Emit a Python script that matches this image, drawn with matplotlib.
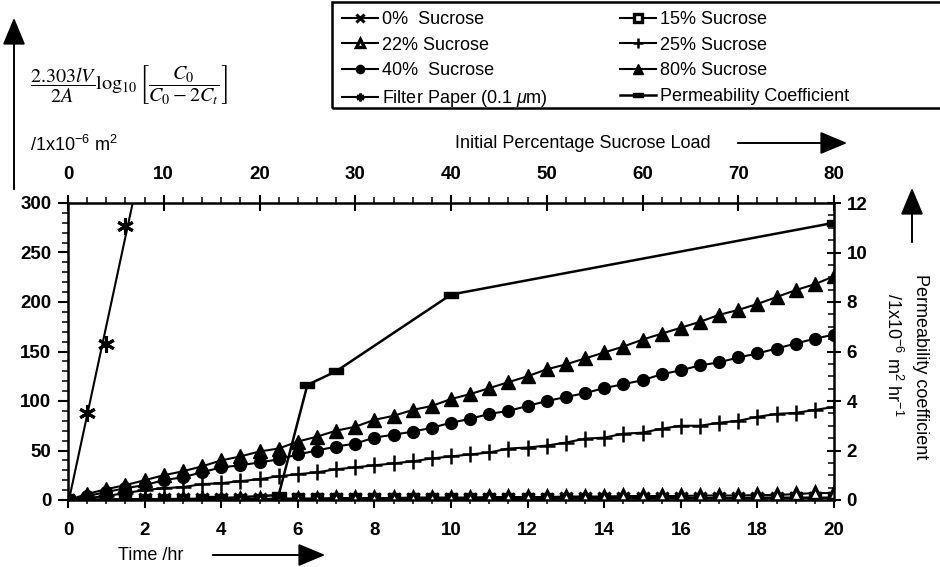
import numpy as np
import matplotlib
matplotlib.use("Agg")
import matplotlib.pyplot as plt
from matplotlib.path import Path
from matplotlib.patches import FancyArrowPatch, Rectangle
from matplotlib.ticker import MultipleLocator

plt.rcParams['font.family'] = ['Liberation Sans', 'DejaVu Sans']
plt.rcParams['mathtext.fontset'] = 'custom'
plt.rcParams['mathtext.rm'] = 'Liberation Sans'
plt.rcParams['mathtext.it'] = 'Liberation Sans:italic'
plt.rcParams['mathtext.bf'] = 'Liberation Sans:bold'

# ---- data -------------------------------------------------------------
time_hr = np.arange(0, 20.5, 0.5)

sucrose_0 = [0, 0.5, 0.5, 0.5, 1, 1, 1, 1, 1, 1,
             1, 1, 1, 1, 1, 1, 1, 1, 1.5, 1.5,
             1.5, 1.5, 1.5, 1.5, 1.5, 1.5, 2, 2, 2, 2,
             2, 2, 2, 2, 2, 2, 2.5, 2.5, 2.5, 2.5, 2.5]
sucrose_15 = [0, 0, 0, 0.5, 0.5, 0.5, 0.5, 0.5, 0.5, 0.5,
              0.5, 1, 1, 1, 1, 1, 1, 1, 1, 1,
              1, 1, 1, 1, 1, 1.5, 1.5, 1.5, 1.5, 1.5,
              1.5, 1.5, 1.5, 1.5, 1.5, 1.5, 1.5, 1.5, 2, 2, 2]
sucrose_22 = [0, 0, 0, 0.5, 0.5, 0.5, 1, 1, 1, 1,
              1, 1.5, 1.5, 1.5, 2, 2, 2, 2, 2.5, 2.5,
              2.5, 2.5, 3, 3, 3, 3, 3.5, 3.5, 3.5, 4,
              4, 4, 4, 4.5, 4.5, 4.5, 5, 5, 6, 7, 7]
sucrose_25 = [0, 2, 4, 7, 10, 12, 13, 16, 17, 19,
              21, 24, 26, 28, 31, 33, 35, 37, 39, 42,
              44, 46, 48, 52, 53, 55, 58, 62, 63, 67,
              68, 72, 75, 75, 78, 80, 84, 87, 88, 91, 94]
sucrose_40 = [0, 4, 8, 12, 15, 20, 23, 28, 33, 35,
              38, 41, 46, 50, 54, 57, 63, 66, 69, 73,
              78, 82, 87, 90, 95, 100, 104, 108, 113, 117,
              121, 127, 131, 136, 139, 144, 148, 153, 158, 163, 167]
sucrose_80 = [0, 6, 11, 15, 20, 25, 29, 34, 40, 44,
              49, 52, 59, 64, 70, 74, 81, 85, 91, 95,
              102, 107, 113, 119, 125, 132, 137, 143, 149, 155,
              162, 168, 174, 180, 187, 192, 198, 205, 212, 218, 226]

filter_time = [0, 0.5, 1.0, 1.5]
filter_vals = [0, 88, 158, 277]

load_pct = [0, 15, 22, 25, 28, 40, 80]
perm_coeff = [0.0, 0.05, 0.2, 4.65, 5.2, 8.3, 11.2]

# ---- figure -----------------------------------------------------------
W, H = 940, 567
fig = plt.figure(figsize=(W / 100, H / 100), dpi=100)

def fx(px):
    return px / W

def fy(py):
    return 1 - py / H

rect = [fx(68), fy(500), fx(834) - fx(68), fy(203) - fy(500)]
ax = fig.add_axes(rect)
ax2 = fig.add_axes(rect)
ax2.patch.set_visible(False)

bar_marker = Path([(-1, -0.45), (1, -0.45), (1, 0.45), (-1, 0.45), (-1, -0.45)],
                  [Path.MOVETO, Path.LINETO, Path.LINETO, Path.LINETO, Path.CLOSEPOLY])
asterisk = (6, 2, 0)

lw = 1.5
h0, = ax.plot(time_hr, sucrose_0, color='k', lw=lw, marker='x', ms=8, mew=2.2)
h15, = ax.plot(time_hr, sucrose_15, color='k', lw=lw, marker='s', ms=7.5, mfc='white', mew=2.4)
h22, = ax.plot(time_hr, sucrose_22, color='k', lw=lw, marker='^', ms=8.5, mfc='white', mew=2.4)
h25, = ax.plot(time_hr, sucrose_25, color='k', lw=lw, marker='+', ms=11, mew=1.8)
h40, = ax.plot(time_hr, sucrose_40, color='k', lw=lw, marker='o', ms=8.5)
h80, = ax.plot(time_hr, sucrose_80, color='k', lw=lw, marker='^', ms=10)

# filter paper: markers with a least-squares straight line
slope, icpt = np.polyfit(filter_time, filter_vals, 1)
t_fit = np.array([-icpt / slope, (300 - icpt) / slope])
ax.plot(t_fit, slope * t_fit + icpt, color='k', lw=lw)
ax.plot(filter_time, filter_vals, ls='none', color='k', marker=asterisk, ms=12, mew=2.2)
hfp, = ax.plot([], [], color='k', lw=lw, marker=asterisk, ms=8, mew=1.8)

hpc, = ax2.plot(load_pct, perm_coeff, color='k', lw=lw + 0.3, marker=bar_marker, ms=10)

ax.set_xlim(0, 20)
ax.set_ylim(0, 300)
ax2.set_xlim(0, 80)
ax2.set_ylim(0, 12)

for a in (ax, ax2):
    for s in a.spines.values():
        s.set_linewidth(1.8)
ax.spines['top'].set_visible(False)
ax.spines['right'].set_visible(False)
ax2.spines['left'].set_visible(False)
ax2.spines['bottom'].set_visible(False)

tick_fs = 13.5
ax.xaxis.set_major_locator(MultipleLocator(2))
ax.xaxis.set_minor_locator(MultipleLocator(0.5))
ax.yaxis.set_major_locator(MultipleLocator(50))
ax.yaxis.set_minor_locator(MultipleLocator(10))
ax.tick_params(axis='x', which='major', direction='out', length=6, width=1.5, pad=10, labelsize=tick_fs)
ax.tick_params(axis='x', which='minor', direction='out', length=3, width=1.1)
ax.tick_params(axis='y', which='major', direction='out', length=7, width=1.5, pad=5, labelsize=tick_fs)
ax.tick_params(axis='y', which='minor', direction='out', length=4, width=1.1)

ax2.xaxis.tick_top()
ax2.yaxis.tick_right()
ax2.xaxis.set_major_locator(MultipleLocator(10))
ax2.xaxis.set_minor_locator(MultipleLocator(2))
ax2.yaxis.set_major_locator(MultipleLocator(2))
ax2.yaxis.set_minor_locator(MultipleLocator(0.5))
ax2.tick_params(axis='x', which='major', direction='inout', length=12, width=1.5, pad=8.5, labelsize=tick_fs)
ax2.tick_params(axis='x', which='minor', direction='out', length=4, width=1.1)
ax2.tick_params(axis='y', which='major', direction='inout', length=10, width=1.5, pad=4, labelsize=tick_fs)
ax2.tick_params(axis='y', which='minor', direction='in', length=4, width=1.1)

for a in (ax, ax2):
    for lab in a.get_xticklabels() + a.get_yticklabels():
        lab.set_fontweight('bold')

# ---- axis titles and arrows -------------------------------------------
def arrow(x0, y0, x1, y1):
    fig.add_artist(FancyArrowPatch((fx(x0), fy(y0)), (fx(x1), fy(y1)),
                                   transform=fig.transFigure,
                                   arrowstyle='-|>,head_length=1.2,head_width=0.5',
                                   mutation_scale=14, lw=1.4, color='k'))

label_fs = 13
fig.text(fx(30), fy(84),
         r'$\dfrac{2.303lV}{2A}\log_{10}\left[\dfrac{C_0}{C_0-2C_t}\right]$',
         fontsize=14.5, va='center', ha='left', math_fontfamily='stix')
fig.text(fx(30), fy(145), r'/1x10$^{-6}$ m$^2$', fontsize=label_fs, va='center', ha='left')
arrow(14, 192, 14, 15)

fig.text(fx(455), fy(143), 'Initial Percentage Sucrose Load', fontsize=label_fs,
         va='center', ha='left')
arrow(735, 143, 850, 143)

fig.text(fx(118), fy(555), 'Time /hr', fontsize=label_fs, va='center', ha='left')
arrow(210, 555, 328, 555)

arrow(912, 245, 912, 185)
fig.text(fx(920), fy(367), 'Permeability coefficient', fontsize=label_fs,
         rotation=-90, va='center', ha='center')
fig.text(fx(893), fy(355), r'/1x10$^{-6}$ m$^2$ hr$^{-1}$', fontsize=label_fs,
         rotation=-90, va='center', ha='center')

# ---- legend (boxed, two columns) --------------------------------------
fig.add_artist(Rectangle((fx(332), fy(108)), fx(960) - fx(332), fy(2) - fy(108),
                         transform=fig.transFigure, fill=False, lw=1.8, ec='k'))
col1 = ([h0, h22, h40, hfp],
        ['0%  Sucrose', '22% Sucrose', '40%  Sucrose', r'Filter Paper (0.1 $\mu$m)'])
col2 = ([h15, h25, h80, hpc],
        ['15% Sucrose', '25% Sucrose', '80% Sucrose', 'Permeability Coefficient'])
leg_kw = dict(loc='upper left', frameon=False, fontsize=label_fs, handlelength=2.0,
              handletextpad=0.2, labelspacing=0.48, markerscale=0.7,
              borderpad=0, borderaxespad=0)
leg1 = fig.legend(*col1, bbox_to_anchor=(fx(342), fy(11)), **leg_kw)
leg2 = fig.legend(*col2, bbox_to_anchor=(fx(620), fy(11)), **leg_kw)

fig.savefig('out.png', dpi=100)
